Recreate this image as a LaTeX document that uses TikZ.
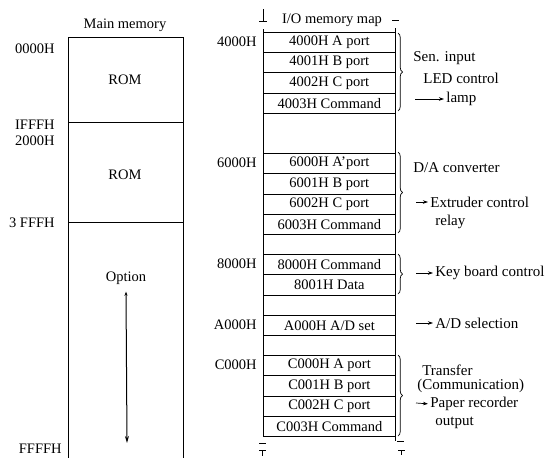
\documentclass[tikz,border=0pt]{standalone}
\usepackage{fontspec}
\setmainfont{Liberation Serif}
\usetikzlibrary{arrows.meta,positioning,decorations.pathreplacing}

\begin{document}
\begin{tikzpicture}[x=1pt,y=-1pt,line width=0.7pt,
  every node/.style={font=\fontsize{14.5}{16}\selectfont,inner sep=0pt},
  port/.style={draw,minimum width=132pt,minimum height=20.2pt,anchor=north west},
  addr/.style={anchor=east},
  note/.style={anchor=west,font=\fontsize{15}{17}\selectfont},
  tip/.style={-{Stealth[length=5pt,width=3.5pt]},shorten >=2pt},
  grp/.style={decorate,decoration={brace,amplitude=4.5pt}}]
  \useasboundingbox (0,0) rectangle (560,458);
  % Main memory
  \node (mmtitle) at (125,25) {Main memory};
  \draw (68,458) -- (68,37) -- (183,37) -- (183,458);
  \draw (68,122) -- (183,122);
  \draw (68,222) -- (183,222);
  \node (rom1) at (125,80) {ROM};
  \node (rom2) at (125,175) {ROM};
  \node (opt) at (126,278) {Option};
  \coordinate (optend) at (127,443);
  \draw[{Stealth[length=4pt,width=3pt]}-{Stealth[length=7pt,width=4pt]},line width=1pt]
    ([yshift=-7pt]opt.south) -- (optend);
  \node[addr] (m0000) at (55,49) {0000H};
  \node[addr] (m1fff) at (55,125) {IFFFH};
  \node[addr] (m2000) at (55,141) {2000H};
  \node[addr] (m3fff) at (55,223) {3 FFFH};
  \node[addr] (mffff) at (62,449) {FFFFH};
  % I/O memory map
  \node (iotitle) at (332,20) {I/O memory map};
  \draw (263,29) -- (263,437);
  \draw (395,28) -- (395,441);
  \node[port] (p4000) at (263,32.0) {4000H A port};
  \node[port] (p4001) at (263,52.2) {4001H B port};
  \node[port] (p4002) at (263,72.4) {4002H C port};
  \node[port] (p4003) at (263,92.6) {4003H Command};
  \node[port] (p6000) at (263,153.2) {6000H A'port};
  \node[port] (p6001) at (263,173.4) {6001H B port};
  \node[port] (p6002) at (263,193.6) {6002H C port};
  \node[port] (p6003) at (263,213.8) {6003H Command};
  \node[port] (p8000) at (263,254.2) {8000H Command};
  \node[port] (p8001) at (263,274.4) {8001H Data};
  \node[port] (pa000) at (263,314.8) {A000H A/D set};
  \node[port] (pc000) at (263,355.2) {C000H A port};
  \node[port] (pc001) at (263,375.4) {C001H B port};
  \node[port] (pc002) at (263,395.6) {C002H C port};
  \node[port] (pc003) at (263,415.8) {C003H Command};
  \node[addr] (a4000) at (257,42) {4000H};
  \node[addr] (a6000) at (257,163) {6000H};
  \node[addr] (a8000) at (257,264) {8000H};
  \node[addr] (aa000) at (257,325) {A000H};
  \node[addr] (ac000) at (257,365) {C000H};
  % break marks
  \draw (263,9) -- (263,21) (259,21) -- (267,21);
  \draw (392,20) -- (399,20);
  \draw (259,443) -- (266,443) (259,450) -- (266,450) (262.5,450) -- (262.5,456);
  \draw (397,441) -- (404,441) (398,450) -- (405,450) (401.5,450) -- (401.5,455);
  % braces
  \draw[grp] (398,33) -- (398,111);
  \draw[grp] (398,152) -- (398,233);
  \draw[grp] (398,254) -- (398,294);
  \draw[grp] (398,355) -- (398,436);
  % notes
  \node[note] (sen) at (413,58) {Sen. input};
  \node[note] (led) at (423,78) {LED control};
  \node[note] (lamp) at (446,99) {lamp};
  \coordinate (lampfrom) at (415,99);
  \draw[tip] (lampfrom) -- (lamp.west);
  \node[note] (dac) at (413,168) {D/A converter};
  \node[note] (extr) at (430,202) {Extruder control};
  \coordinate (extrfrom) at (416,202);
  \draw[tip] (extrfrom) -- (extr.west);
  \node[note] (relay) at (435,222) {relay};
  \node[note] (key) at (435,273) {Key board control};
  \coordinate (keyfrom) at (416,273);
  \draw[tip] (keyfrom) -- (key.west);
  \node[note] (adsel) at (435,323) {A/D selection};
  \coordinate (adfrom) at (416,323);
  \draw[tip] (adfrom) -- (adsel.west);
  \node[note] (trans) at (422,370) {Transfer};
  \node[note] (comm) at (417,386) {(Communication)};
  \node[note] (paper) at (430,404) {Paper recorder};
  \coordinate (paperfrom) at (416,403);
  \draw[tip] (paperfrom) -- (paper.west);
  \node[note] (outp) at (435,423) {output};
\end{tikzpicture}
\end{document}
